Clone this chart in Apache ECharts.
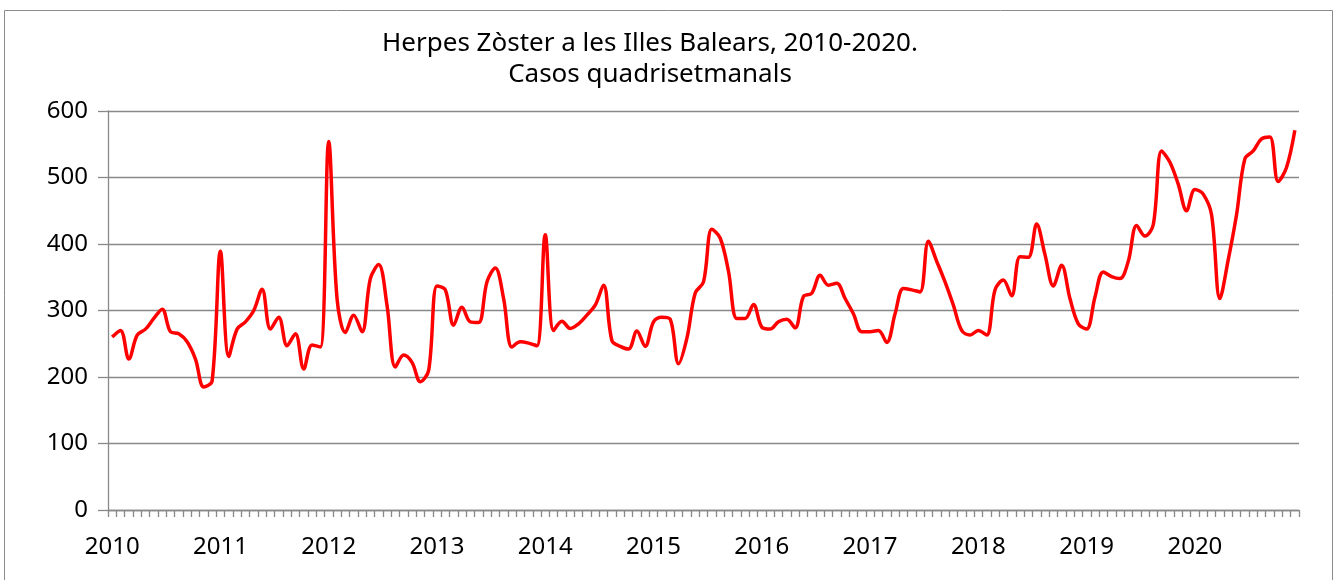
<!DOCTYPE html>
<html>
<head>
<meta charset="utf-8">
<script src="https://cdn.jsdelivr.net/npm/echarts@6/dist/echarts.min.js"></script>
<style>
html,body{margin:0;padding:0;background:#fff;}
#chart{width:1337px;height:580px;}
</style>
</head>
<body>
<div id="chart"></div>
<script>
// Year labels (each year has 13 four-week periods)
const years = ['2010','2011','2012','2013','2014','2015','2016','2017','2018','2019','2020'];
const periodsPerYear = 13;

// Cases per four-week period, by year
const v2010 = [260, 270, 227, 263, 272, 288, 302, 268, 265, 253, 227, 185, 194];
const v2011 = [389, 231, 272, 283, 300, 332, 272, 290, 247, 265, 212, 248, 245];
const v2012 = [554, 318, 267, 293, 268, 348, 369, 308, 215, 233, 222, 193, 210];
const v2013 = [337, 331, 278, 305, 283, 282, 343, 364, 318, 245, 253, 251, 247];
const v2014 = [414, 270, 284, 273, 280, 293, 308, 338, 255, 246, 242, 269, 246];
const v2015 = [283, 290, 287, 220, 258, 326, 343, 422, 409, 359, 288, 288, 309];
const v2016 = [275, 272, 283, 287, 274, 321, 326, 353, 338, 341, 318, 295, 268];
const v2017 = [268, 270, 252, 295, 333, 331, 328, 404, 374, 343, 308, 270, 263];
const v2018 = [270, 263, 331, 346, 322, 381, 380, 430, 384, 337, 368, 318, 280];
const v2019 = [272, 320, 358, 351, 348, 374, 428, 412, 429, 540, 523, 490, 450];
const v2020 = [482, 475, 444, 318, 376, 444, 528, 540, 558, 561, 494, 515, 571];

const values = [].concat(v2010, v2011, v2012, v2013, v2014, v2015, v2016, v2017, v2018, v2019, v2020);
const categories = [];
years.forEach(y => { for (let p = 1; p <= periodsPerYear; p++) categories.push(y + '-' + p); });

const titleLine1 = 'Herpes Zòster a les Illes Balears, 2010-2020.';
const titleLine2 = 'Casos quadrisetmanals';

const FONT = '"Noto Sans", "Open Sans", sans-serif';
const chart = echarts.init(document.getElementById('chart'), null, {renderer: 'canvas'});
chart.setOption({
  animation: false,
  backgroundColor: '#ffffff',
  graphic: [{
    type: 'rect',
    shape: {x: 4.5, y: 10.5, width: 1328, height: 620},
    style: {fill: 'none', stroke: '#8c8c8c', lineWidth: 1},
    silent: true, z: -1
  }],
  title: {
    text: titleLine1 + '\n' + titleLine2,
    left: 645,
    top: 23,
    textAlign: 'center',
    textStyle: {fontFamily: FONT, fontSize: 26, fontWeight: 'normal', color: '#000', lineHeight: 31}
  },
  grid: {left: 108, right: 38, top: 111, bottom: 70, containLabel: false},
  xAxis: {
    type: 'category',
    data: categories,
    boundaryGap: true,
    axisLine: {show: true, lineStyle: {color: '#898989', width: 1.3}},
    axisTick: {show: true, interval: 0, length: 7, lineStyle: {color: '#898989', width: 1.3}},
    axisLabel: {
      interval: (idx) => idx % periodsPerYear === 0,
      formatter: (val) => val.split('-')[0],
      fontFamily: FONT, fontSize: 24, color: '#000', margin: 25
    },
    splitLine: {show: false}
  },
  yAxis: {
    type: 'value',
    min: 0, max: 600, interval: 100,
    axisLine: {show: true, lineStyle: {color: '#898989', width: 1.3}},
    axisTick: {show: true, length: 10, lineStyle: {color: '#898989', width: 1.3}},
    axisLabel: {fontFamily: FONT, fontSize: 24, color: '#000', margin: 20},
    splitLine: {show: true, lineStyle: {color: '#898989', width: 1.3}}
  },
  series: [{
    type: 'line',
    data: values,
    smooth: 0.35,
    symbol: 'none',
    lineStyle: {color: '#ff0000', width: 3.5}
  }]
});
</script>
</body>
</html>
